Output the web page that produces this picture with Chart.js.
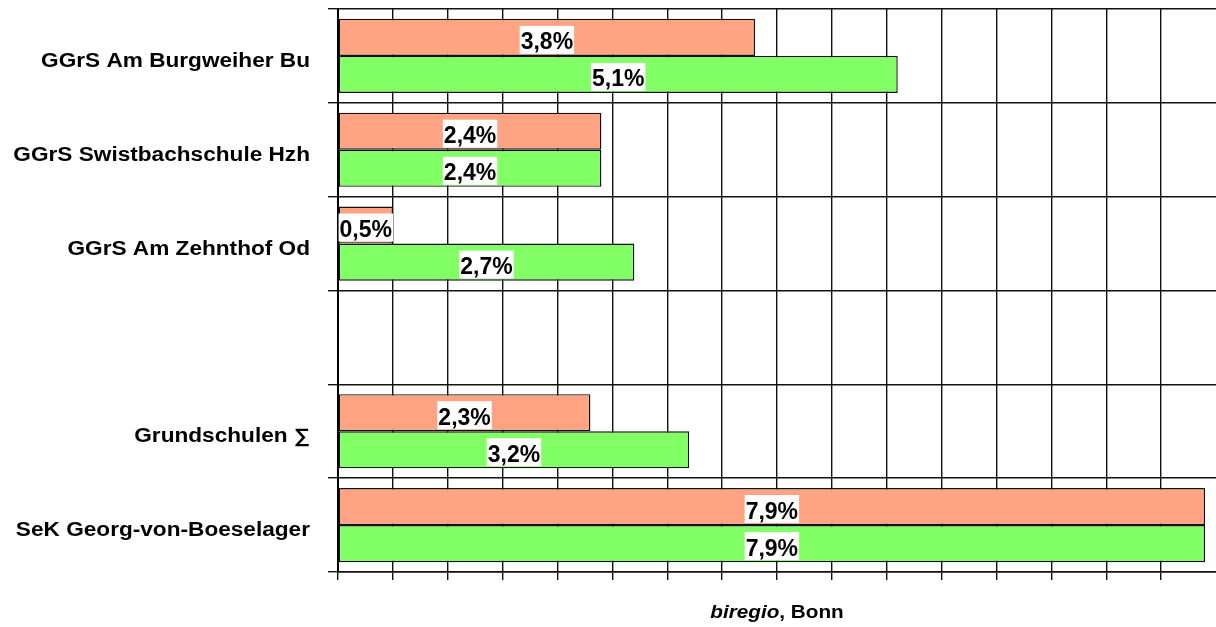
<!DOCTYPE html>
<html>
<head>
<meta charset="utf-8">
<script src="https://cdn.jsdelivr.net/npm/chart.js@4.4.1/dist/chart.umd.min.js"></script>
<style>
    html, body { margin: 0; padding: 0; background: #fff; overflow: hidden; }
    #wrap { width: 1216px; height: 627px; }
</style>
</head>
<body>
<div id="wrap"><canvas id="schoolChart" width="1216" height="627"></canvas></div>
<script>
// Schools and their two percentage series
const schools = ['GGrS Am Burgweiher Bu', 'GGrS Swistbachschule Hzh', 'GGrS Am Zehnthof Od', '', 'Grundschulen ∑', 'SeK Georg-von-Boeselager'];
const seriesA = [3.8, 2.4, 0.5, null, 2.3, 7.9];
const seriesB = [5.1, 2.4, 2.7, null, 3.2, 7.9];
const axisMax = 8;
const axisStep = 0.5;
const sourceItalic = 'biregio';
const sourceRest = ', Bonn';

const lineColor = '#111';
const fontFamily = '"Liberation Sans", Arial, sans-serif';

// White boxed value labels centred on each bar
const valueLabels = {
    id: 'valueLabels',
    afterDatasetsDraw(chart) {
        const ctx = chart.ctx;
        ctx.save();
        ctx.font = 'bold 23px ' + fontFamily;
        ctx.textAlign = 'center';
        ctx.textBaseline = 'alphabetic';
        chart.data.datasets.forEach((ds, i) => {
            const meta = chart.getDatasetMeta(i);
            meta.data.forEach((bar, j) => {
                const v = ds.data[j];
                if (v == null) return;
                const p = bar.getProps(['x', 'y', 'base', 'height'], true);
                const cx = (p.x + p.base) / 2;
                const top = p.y - p.height / 2;
                const text = v.toFixed(1).replace('.', ',') + '%';
                const w = ctx.measureText(text).width + 2;
                ctx.fillStyle = '#fff';
                ctx.fillRect(cx - w / 2, top + 7, w, 28);
                ctx.fillStyle = '#000';
                ctx.fillText(text, cx, top + 30.5);
            });
        });
        ctx.restore();
    }
};

// Category names, drawn slightly widened like the original export
const categoryLabels = {
    id: 'categoryLabels',
    afterDraw(chart) {
        const ctx = chart.ctx;
        const yScale = chart.scales.y;
        ctx.save();
        ctx.font = 'bold 19.5px ' + fontFamily;
        ctx.fillStyle = '#000';
        ctx.textAlign = 'right';
        ctx.textBaseline = 'alphabetic';
        schools.forEach((name, i) => {
            if (!name) return;
            const yc = yScale.getPixelForValue(i);
            ctx.save();
            ctx.translate(310, yc + 11);
            ctx.scale(1.16, 1);
            ctx.fillText(name, 0, 0);
            ctx.restore();
        });
        ctx.restore();
    }
};

// Source line under the plot: italic "biregio" followed by ", Bonn"
const sourceNote = {
    id: 'sourceNote',
    afterDraw(chart) {
        const ctx = chart.ctx;
        const area = chart.chartArea;
        const stretch = 1.12;
        ctx.save();
        ctx.fillStyle = '#000';
        ctx.textBaseline = 'alphabetic';
        ctx.font = 'italic bold 18.5px ' + fontFamily;
        const w1 = ctx.measureText(sourceItalic).width;
        ctx.font = 'bold 18.5px ' + fontFamily;
        const w2 = ctx.measureText(sourceRest).width;
        const total = (w1 + w2) * stretch;
        const cx = (area.left + area.right) / 2;
        ctx.translate(cx - total / 2, 618);
        ctx.scale(stretch, 1);
        ctx.font = 'italic bold 18.5px ' + fontFamily;
        ctx.fillText(sourceItalic, 0, 0);
        ctx.font = 'bold 18.5px ' + fontFamily;
        ctx.fillText(sourceRest, w1, 0);
        ctx.restore();
    }
};

new Chart(document.getElementById('schoolChart'), {
    type: 'bar',
    data: {
        labels: schools,
        datasets: [{
            label: 'A',
            data: seriesA,
            backgroundColor: '#ffa383',
            borderColor: lineColor,
            borderWidth: 1.4,
            borderSkipped: false,
            categoryPercentage: 0.79,
            barPercentage: 1
        }, {
            label: 'B',
            data: seriesB,
            backgroundColor: '#83ff66',
            borderColor: lineColor,
            borderWidth: 1.4,
            borderSkipped: false,
            categoryPercentage: 0.79,
            barPercentage: 1
        }]
    },
    options: {
        indexAxis: 'y',
        responsive: false,
        animation: false,
        devicePixelRatio: 1,
        layout: {
            padding: { top: 9, right: 0, bottom: 0, left: 0 }
        },
        plugins: {
            legend: { display: false },
            tooltip: { enabled: false }
        },
        scales: {
            x: {
                min: 0,
                max: axisMax,
                ticks: {
                    stepSize: axisStep,
                    display: false
                },
                grid: {
                    color: c => (c.tick && c.tick.value === axisMax) ? 'rgba(0,0,0,0)' : lineColor,
                    lineWidth: 1.4,
                    tickLength: 8
                },
                border: { color: lineColor, width: 1.4 },
                afterFit(scale) { scale.height = 55; }
            },
            y: {
                ticks: { display: false },
                grid: {
                    offset: true,
                    color: lineColor,
                    lineWidth: 1.4,
                    tickLength: 10
                },
                border: { color: '#000', width: 2 },
                afterFit(scale) { scale.width = 338; }
            }
        }
    },
    plugins: [valueLabels, categoryLabels, sourceNote]
});
</script>
</body>
</html>
